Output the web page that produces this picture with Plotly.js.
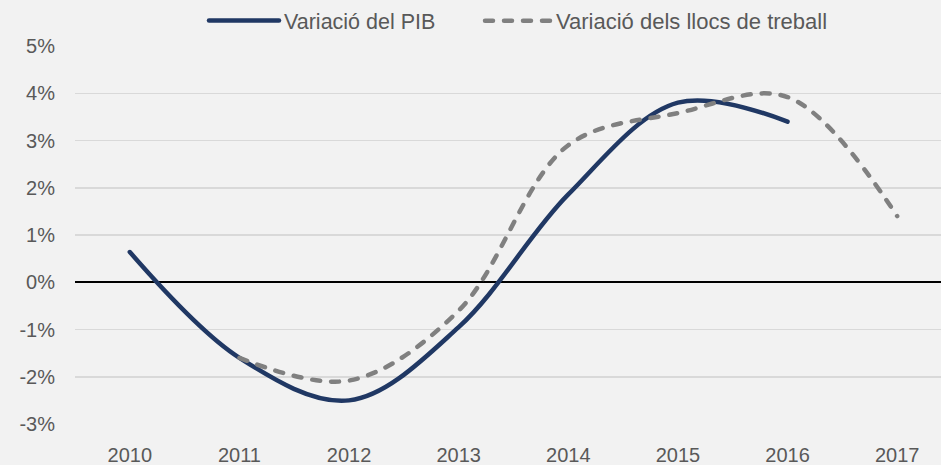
<!DOCTYPE html>
<html>
<head>
<meta charset="utf-8">
<script src="https://cdn.plot.ly/plotly-3.0.1.min.js"></script>
<style>
html, body { margin: 0; padding: 0; background: #f2f2f2; }
#chart { width: 941px; height: 465px; }
.scatterlayer .js-line { stroke-linecap: round !important; }
.legendlines path { stroke-linecap: round !important; }
</style>
</head>
<body>
<div id="chart"></div>
<script>
// Data (annual % change)
const years = ['2010', '2011', '2012', '2013', '2014', '2015', '2016', '2017'];
const pibValues = [0.64, -1.6, -2.5, -0.95, 1.86, 3.8, 3.4, null];
const llocsValues = [null, -1.6, -2.08, -0.6, 2.9, 3.58, 3.92, 1.4];
const seriesNames = ['Variació del PIB', 'Variació dels llocs de treball'];
const yTickValues = [-3, -2, -1, 0, 1, 2, 3, 4, 5];
const yTickLabels = ['-3%', '-2%', '-1%', '0%', '1%', '2%', '3%', '4%', '5%'];

const fontFamily = 'Liberation Sans, Arial, sans-serif';
const textColor = '#595959';

const traces = [
  {
    x: years, y: pibValues, name: seriesNames[0], type: 'scatter', mode: 'lines',
    line: { color: '#203864', width: 4.5, shape: 'spline', smoothing: 1 },
    connectgaps: false, hoverinfo: 'skip', legend: 'legend'
  },
  {
    x: years, y: llocsValues, name: seriesNames[1], type: 'scatter', mode: 'lines',
    line: { color: '#808080', width: 4.5, shape: 'spline', smoothing: 1, dash: '8px,11px' },
    connectgaps: false, hoverinfo: 'skip', legend: 'legend2'
  }
];

const legendFont = { family: fontFamily, size: 21.5, color: textColor };

const layout = {
  width: 941, height: 465,
  paper_bgcolor: '#f2f2f2', plot_bgcolor: '#f2f2f2',
  margin: { l: 75, r: 0, t: 45, b: 41, pad: 0 },
  font: { family: fontFamily, size: 20, color: textColor },
  showlegend: true,
  legend: {
    orientation: 'h', x: (204 - 75) / 866, xanchor: 'left', y: 1.066, yanchor: 'middle',
    font: legendFont, itemwidth: 70, bgcolor: 'rgba(0,0,0,0)'
  },
  legend2: {
    orientation: 'h', x: (480 - 75) / 866, xanchor: 'left', y: 1.066, yanchor: 'middle',
    font: { family: fontFamily, size: 22, color: textColor }, itemwidth: 66, bgcolor: 'rgba(0,0,0,0)'
  },
  xaxis: {
    type: 'category', range: [-0.5, 7.4], showgrid: false, zeroline: false,
    showline: false, ticks: '', ticklabelstandoff: 17,
    tickfont: { family: fontFamily, size: 20, color: textColor }, fixedrange: true
  },
  yaxis: {
    range: [-3, 5], tickmode: 'array', tickvals: yTickValues, ticktext: yTickLabels,
    showgrid: true, gridcolor: '#d9d9d9', gridwidth: 1.5, zeroline: true, zerolinecolor: '#000000',
    zerolinewidth: 2, showline: false, ticks: '', ticklabelstandoff: 19,
    tickfont: { family: fontFamily, size: 20, color: textColor }, fixedrange: true
  }
};

Plotly.newPlot('chart', traces, layout, { displayModeBar: false, staticPlot: true });
</script>
</body>
</html>
